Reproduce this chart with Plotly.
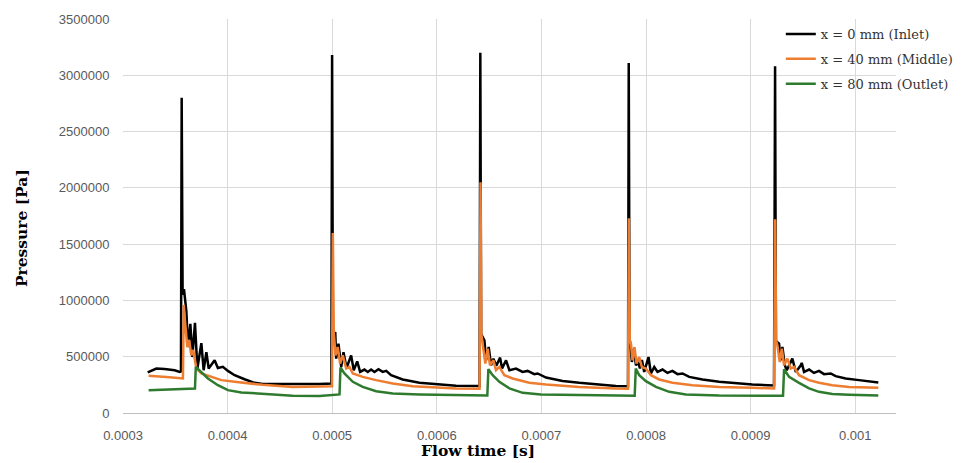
import numpy as np
import plotly.graph_objects as go

# ---- data (time in microseconds, pressure in Pa) ----
inlet_t_us = [323.6, 331.9, 339.8, 349.4, 354.2, 355.4, 356.1, 357.0, 358.3, 360.6, 362.1, 364.4, 366.3,
              368.8, 371.1, 374.9, 377.1, 379.7, 381.9, 387.6, 390.7, 395.5, 400.3, 406.7, 416.2, 425.8,
              433.7, 462.1, 487.9, 499.2, 499.9, 500.7, 502.9, 503.8, 506.0, 508.6, 510.8, 513.7, 518.1,
              520.6, 523.9, 526.7, 530.8, 534.0, 537.2, 540.4, 544.2, 548.3, 551.6, 556.3, 567.4, 583.4,
              599.3, 618.4, 640.9, 641.6, 642.4, 645.5, 647.1, 649.6, 651.9, 654.1, 656.9, 660.5, 662.4,
              666.2, 669.4, 675.7, 682.0, 686.8, 693.2, 696.4, 704.4, 720.2, 736.2, 752.1, 771.2, 782.8,
              783.5, 784.3, 785.2, 786.5, 788.4, 790.4, 792.5, 794.2, 796.1, 798.3, 802.4, 804.7, 807.9,
              811.0, 815.8, 820.5, 825.3, 830.1, 834.9, 841.3, 854.0, 869.9, 885.9, 901.7, 922.4, 923.4,
              924.2, 927.2, 928.8, 930.4, 932.7, 934.6, 939.9, 943.2, 948.0, 948.9, 951.1, 955.9, 960.6,
              965.4, 970.2, 976.6, 981.3, 990.9, 1003.6, 1022.1]
inlet_p = [360000, 395000, 390000, 380000, 365000, 370000, 2800000, 1050000, 1100000, 900000, 586000, 792000, 497000,
           801000, 395000, 621000, 380000, 541000, 395000, 468000, 400000, 410000, 374000, 336000, 300000, 268000,
           258000, 256000, 258000, 262000, 3180000, 650000, 720000, 483000, 616000, 409000, 540000, 400000, 512000,
           380000, 459000, 365000, 386000, 365000, 386000, 365000, 389000, 365000, 374000, 336000, 298000, 268000,
           253000, 241000, 240000, 3200000, 700000, 645000, 468000, 586000, 424000, 483000, 420000, 492000, 395000,
           468000, 380000, 395000, 365000, 374000, 345000, 351000, 315000, 285000, 268000, 253000, 240000, 238000,
           3110000, 650000, 601000, 453000, 571000, 424000, 453000, 395000, 470000, 365000, 497000, 351000, 409000,
           365000, 386000, 356000, 374000, 345000, 351000, 321000, 298000, 277000, 262000, 253000, 245000, 3080000,
           640000, 616000, 468000, 586000, 424000, 380000, 483000, 365000, 424000, 445000, 365000, 386000, 356000,
           374000, 345000, 351000, 327000, 307000, 292000, 271000]

middle_t_us = [324.5, 335.1, 344.6, 357.3, 358.1, 359.4, 361.5, 363.2, 365.3, 367.1, 370.1, 374.9, 384.4,
               394.0, 406.7, 422.6, 433.7, 462.1, 487.9, 499.8, 500.6, 501.5, 503.2, 505.3, 507.6, 510.1,
               513.4, 516.5, 519.7, 529.2, 542.0, 557.9, 577.0, 599.3, 618.4, 640.9, 641.8, 642.6, 644.5,
               646.4, 648.6, 650.9, 654.1, 656.6, 659.8, 664.6, 672.5, 688.4, 704.4, 736.2, 771.2, 782.8,
               783.6, 784.5, 785.6, 787.1, 789.0, 790.9, 793.5, 796.1, 799.9, 804.7, 812.6, 825.3, 844.4,
               869.9, 901.7, 922.4, 923.5, 924.4, 925.6, 927.9, 929.8, 932.0, 935.2, 938.4, 941.5, 946.3,
               955.9, 965.4, 978.1, 994.1, 1022.1]
middle_p = [330000, 325000, 318000, 307000, 960000, 800000, 586000, 650000, 512000, 560000, 397000, 351000, 321000,
            292000, 277000, 262000, 250000, 232000, 238000, 238000, 1600000, 718000, 512000, 586000, 439000, 512000,
            395000, 409000, 351000, 321000, 292000, 262000, 238000, 227000, 218000, 215000, 2050000, 700000, 586000,
            439000, 571000, 424000, 468000, 380000, 409000, 336000, 307000, 268000, 253000, 232000, 218000, 216000,
            1730000, 650000, 616000, 468000, 586000, 439000, 497000, 409000, 395000, 336000, 298000, 268000, 247000,
            232000, 224000, 218000, 1720000, 640000, 601000, 453000, 571000, 424000, 483000, 395000, 409000, 336000,
            292000, 268000, 247000, 232000, 224000]

outlet_t_us = [324.5, 335.1, 349.4, 368.8, 369.6, 374.9, 381.2, 390.7, 400.3, 413.1, 433.7, 462.1, 487.9,
               507.0, 507.9, 511.7, 519.7, 529.2, 542.0, 557.9, 583.4, 618.4, 648.3, 649.3, 653.4, 659.8,
               669.4, 682.1, 699.6, 736.2, 771.2, 789.2, 790.2, 793.5, 799.9, 809.5, 822.2, 838.1, 869.9,
               931.0, 932.0, 936.8, 946.3, 955.9, 965.4, 978.1, 994.1, 1022.1]
outlet_p = [203000, 205000, 208000, 218000, 409000, 365000, 307000, 247000, 203000, 183000, 168000, 153000, 150000,
            165000, 404000, 351000, 277000, 232000, 194000, 174000, 165000, 159000, 155000, 390000, 336000, 277000,
            218000, 179000, 165000, 159000, 153000, 153000, 395000, 336000, 283000, 232000, 188000, 165000, 156000,
            153000, 389000, 321000, 268000, 218000, 188000, 168000, 162000, 156000]

series_names = ["x = 0 mm (Inlet)", "x = 40 mm (Middle)", "x = 80 mm (Outlet)"]
series_colors = ["#000000", "#ED7D31", "#2E7A2E"]

x_tick_vals = [0.0003, 0.0004, 0.0005, 0.0006, 0.0007, 0.0008, 0.0009, 0.001]
x_tick_text = ["0.0003", "0.0004", "0.0005", "0.0006", "0.0007", "0.0008", "0.0009", "0.001"]
y_tick_vals = [0, 500000, 1000000, 1500000, 2000000, 2500000, 3000000, 3500000]
y_tick_text = ["0", "500000", "1000000", "1500000", "2000000", "2500000", "3000000", "3500000"]

fig = go.Figure()
all_series = [(inlet_t_us, inlet_p), (middle_t_us, middle_p), (outlet_t_us, outlet_p)]
for i, ((tu, p), name, col) in enumerate(zip(all_series, series_names, series_colors)):
    fig.add_trace(go.Scatter(
        x=np.array(tu) * 1e-6, y=p, mode="lines", name=name,
        line=dict(color=col, width=2.5), legendgroup=f"g{i}",
    ))

tick_font = dict(family="Liberation Sans, Arial, sans-serif", size=13, color="#595959")
fig.update_layout(
    width=971, height=463,
    margin=dict(l=123, r=74, t=17, b=50),
    paper_bgcolor="white", plot_bgcolor="white",
    showlegend=True,
    legend=dict(
        x=0.851, y=1.0, xanchor="left", yanchor="top",
        font=dict(family="DejaVu Serif, Georgia, serif", size=13, color="#333333"),
        bgcolor="rgba(0,0,0,0)", tracegroupgap=5,
    ),
    xaxis=dict(
        range=[0.0003, 0.001039], tickvals=x_tick_vals, ticktext=x_tick_text,
        showgrid=True, gridcolor="#D9D9D9", gridwidth=1,
        showline=True, linecolor="#BFBFBF", linewidth=1,
        ticks="outside", ticklen=10, tickcolor="rgba(0,0,0,0)",
        tickfont=tick_font, zeroline=False,
    ),
    yaxis=dict(
        range=[0, 3500000], tickvals=y_tick_vals, ticktext=y_tick_text,
        showgrid=True, gridcolor="#D9D9D9", gridwidth=1,
        showline=False,
        ticks="outside", ticklen=10, tickcolor="rgba(0,0,0,0)",
        tickfont=tick_font, zeroline=False,
    ),
    annotations=[
        dict(text="<b>Flow time [s]</b>", xref="paper", yref="paper",
             x=(478 - 123) / 774, y=(413 - 451) / 396, xanchor="center", yanchor="middle",
             showarrow=False, font=dict(family="DejaVu Serif, Georgia, serif", size=15.5, color="#000000")),
        dict(text="<b>Pressure [Pa]</b>", xref="paper", yref="paper",
             x=(22 - 123) / 774, y=(413 - 227) / 396, xanchor="center", yanchor="middle",
             textangle=-90, showarrow=False,
             font=dict(family="DejaVu Serif, Georgia, serif", size=15.5, color="#000000")),
    ],
)

fig.write_html("out.html")
